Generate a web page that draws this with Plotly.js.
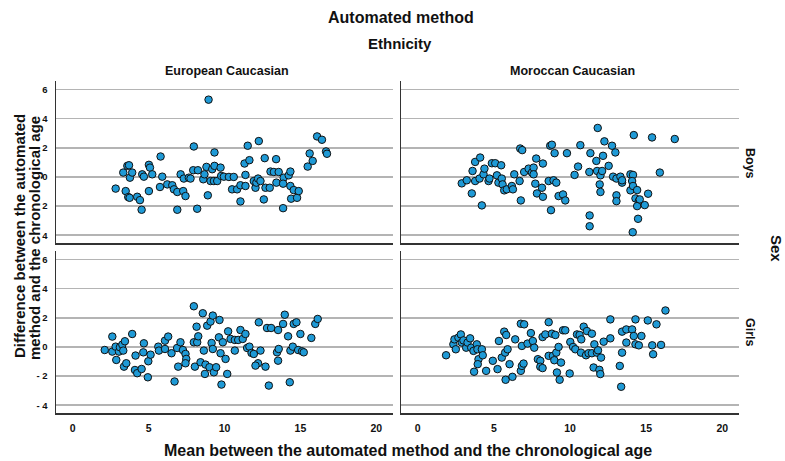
<!DOCTYPE html>
<html>
<head>
<meta charset="utf-8">
<script src="https://cdn.plot.ly/plotly-3.0.1.min.js"></script>
<style>html,body{margin:0;padding:0;background:#fff;}#chart{width:785px;height:461px;}</style>
</head>
<body>
<div id="chart"></div>
<script>
// ---- Data ----
const euBoysX = [2.83,3.33,3.49,3.6,3.71,3.77,3.92,3.66,3.75,4.25,4.43,4.54,4.58,4.69,5.02,5.09,5.02,5.24,5.79,5.9,5.75,6.23,6.56,6.67,6.89,6.89,7.11,7.28,7.43,7.32,7.65,7.76,7.94,7.98,8.25,8.2,8.6,8.68,8.81,8.9,9.08,9.19,9.34,9.34,9.3,9.52,9.74,9.78,9.96,10.29,10.61,10.5,10.83,11.05,11.05,11.38,11.38,11.32,11.53,11.64,11.93,12.04,12.1,12.21,12.26,12.37,12.59,12.65,12.7,12.98,13.03,13.25,13.4,13.42,13.57,13.9,13.86,13.86,14.23,14.34,14.34,14.39,14.56,14.78,14.89,15.48,15.61,15.81,16.1,16.42,16.69,16.75,8.95];
const euBoysY = [-0.80,0.30,-0.97,0.76,0.80,-0.05,0.30,-1.38,-1.43,-1.36,-1.59,-2.25,0.18,0.02,0.83,0.64,-0.97,0.18,1.40,0.02,-0.69,-0.51,-0.57,-0.85,-1.03,-2.25,0.18,-0.97,-1.31,-0.11,-0.05,-0.11,0.46,2.09,0.46,-2.18,-0.16,0.18,0.69,-1.26,-0.28,0.53,0.76,1.68,-0.28,-0.28,0.64,0.07,0.02,0.0,0.0,-0.85,-0.85,-1.68,-0.57,-0.62,0.14,0.92,2.14,1.15,-0.28,-0.74,-0.39,-0.11,2.46,-0.28,-1.54,1.29,-0.74,-0.74,0.37,0.34,1.22,-0.39,0.34,-0.05,-0.46,-2.14,0.11,0.37,-0.62,-1.49,-0.90,-1.43,-0.97,0.71,1.61,1.10,2.78,2.55,1.75,1.59,5.3];

const moBoysX = [2.89,3.22,3.55,3.6,3.77,3.77,4.1,4.06,4.21,4.32,4.38,4.65,4.71,4.87,5.09,5.2,5.3,5.48,5.52,5.57,5.68,5.85,6.18,6.25,6.34,6.69,6.73,6.86,6.77,6.99,7.28,7.5,7.61,7.61,7.72,7.78,7.83,8.16,8.22,8.22,8.6,8.7,8.81,8.75,8.92,8.99,9.1,9.25,9.54,9.69,9.8,10.3,10.53,10.68,11.27,11.34,11.29,11.29,11.73,11.78,11.82,11.95,12.0,12.0,12.11,12.17,12.26,12.54,12.76,12.83,12.98,13.05,13.05,13.05,13.31,13.42,13.42,13.97,14.14,14.08,14.19,13.97,14.14,14.3,14.41,14.52,14.41,14.47,14.12,14.58,14.91,15.13,15.39,15.9,16.88];
const moBoysY = [-0.44,-0.23,-1.13,0.41,-0.28,1.03,1.33,-0.11,-1.95,0.18,0.57,-0.28,-0.11,0.94,0.94,0.11,-0.39,0.80,-0.11,-0.51,-0.92,-0.85,-0.62,-0.85,0.18,-0.28,1.95,1.84,-1.61,0.34,0.57,0.30,0.64,0.18,-0.46,1.26,-1.13,-0.74,-1.36,0.92,-0.28,2.14,2.21,-2.28,-0.23,1.63,-0.39,-1.31,-1.20,-1.61,1.63,0.14,0.71,2.18,0.34,1.63,-2.64,-3.38,1.10,0.41,3.36,-0.51,-1.03,0.11,0.41,1.45,2.44,0.76,2.14,0.02,1.68,-0.11,-1.26,-1.66,0.02,-0.39,-0.23,0.18,0.14,-0.28,2.87,-0.92,-0.62,-1.47,-0.90,-1.66,-2.0,-2.87,-3.79,-1.54,-1.93,-1.15,2.71,0.30,2.60];

const euGirlsX = [2.11,2.61,2.61,2.83,2.87,3.05,3.11,3.27,3.33,3.44,3.38,3.53,3.92,4.1,4.14,4.25,4.54,4.65,4.69,4.95,4.98,5.13,5.64,5.68,6.08,6.08,6.29,6.51,6.71,6.88,6.95,7.1,7.26,7.43,7.48,7.43,7.98,7.98,8.16,8.2,8.27,8.05,8.42,8.57,8.64,8.75,8.71,8.86,9.08,9.23,9.15,9.23,9.01,9.3,9.45,9.63,9.67,9.8,9.89,9.74,10.07,10.18,10.24,10.4,10.68,10.68,10.9,11.05,11.2,11.38,11.49,11.64,11.78,11.93,12.21,12.04,12.26,12.37,12.7,12.8,13.07,12.92,13.46,13.57,13.53,13.53,13.86,13.97,14.19,14.3,14.34,14.5,14.56,14.74,14.85,15.0,15.11,15.22,15.72,15.98,16.14];
const euGirlsY = [-0.21,0.71,-0.32,0.02,-0.89,-0.32,-0.02,0.16,-0.25,0.39,-1.35,-1.12,0.89,-1.58,-0.59,-1.80,-1.51,-0.37,0.25,-2.08,-0.98,-0.53,0.02,-0.25,-0.14,0.43,0.71,-0.43,-2.37,-0.07,-1.35,0.32,-0.21,-0.48,-0.82,-1.12,2.79,0.32,1.39,0.32,0.73,-1.35,-1.05,2.31,-0.25,-1.21,-1.85,1.46,1.74,2.15,0.27,-0.14,-1.39,-1.74,-1.39,0.66,1.85,-2.58,0.32,-0.43,-0.82,-1.85,1.07,0.55,-0.25,0.48,0.48,1.16,0.55,0.89,-0.07,0.02,-0.41,-0.48,-1.12,-1.28,1.69,-0.25,-1.35,1.30,1.30,-2.65,-0.37,-0.14,-0.94,1.16,1.58,2.21,0.73,-2.42,-0.25,0.02,1.58,1.69,-0.21,0.89,-0.30,-0.37,0.62,1.58,1.92];

const moGirlsX = [1.86,2.34,2.41,2.5,2.67,2.83,2.89,3.0,3.18,3.27,3.44,3.51,3.66,3.7,3.88,3.92,3.99,3.94,4.21,4.27,4.49,4.93,5.24,5.33,5.52,5.68,5.74,5.81,5.9,6.03,5.77,6.22,6.4,6.77,6.99,6.84,6.77,6.84,6.95,7.21,7.43,7.56,7.65,7.89,8.05,8.05,8.2,8.2,8.38,8.6,8.6,8.81,8.88,9.04,8.97,9.1,9.25,9.14,9.32,9.41,9.54,9.69,9.98,10.02,10.2,10.35,10.46,10.63,10.72,10.74,10.9,11.05,11.11,11.22,11.44,11.44,11.6,11.55,11.77,11.84,11.93,11.99,12.04,12.21,12.65,12.65,13.27,13.36,13.42,13.42,13.7,13.7,14.08,14.19,14.3,14.3,14.52,14.69,15.11,15.4,15.46,15.68,15.98,16.27];
const moGirlsY = [-0.57,0.18,0.52,-0.16,0.64,0.86,0.30,0.45,-0.05,0.30,0.59,-0.05,-0.27,-1.70,0.18,-0.16,-0.84,-1.18,-0.16,-0.57,-1.64,-0.95,-1.52,0.41,-0.73,1.05,-0.39,0.82,-0.16,-1.18,-2.25,-2.05,0.52,1.59,1.55,0.07,-1.64,-1.30,-1.14,0.23,0.95,0.41,-0.05,-0.84,-0.95,-1.36,-1.45,0.68,0.86,1.70,-0.61,0.91,-0.61,0.82,-0.91,-0.39,0.00,-1.75,-2.25,-1.07,1.14,1.14,-1.82,0.34,0.00,-0.16,0.86,0.82,-0.39,0.52,1.39,-0.57,1.09,-0.43,0.91,-0.43,0.18,-1.41,-0.39,-0.23,-1.57,-1.86,-0.73,0.36,1.89,0.59,-1.30,-2.73,-0.39,1.05,1.20,0.30,1.20,0.75,1.89,0.18,0.11,0.75,1.82,0.11,-0.50,1.55,0.14,2.50];

const xTickVals = [0, 5, 10, 15, 20];
const xTickText = ["0", "5", "10", "15", "20"];
const yTickVals = [-4, -2, 0, 2, 4, 6];
const yTickTextTop = ["4", "2", "0", "2", "4", "6"];
const yTickTextBottom = ["- 4", "- 2", "0", "2", "4", "6"];

const columnLabels = ["European Caucasian", "Moroccan Caucasian"];
const rowLabels = ["Boys", "Girls"];
const yTitleLines = ["Difference between the automated", "method and the chronological age"];

// ---- Layout ----
const W = 785, H = 461;
const px = v => v / W;
const py = v => 1 - v / H;
const FONT = "Liberation Sans, Arial, sans-serif";
const markerStyle = {size: 7.5, color: "#1f9ad6", line: {color: "#111", width: 1}};

function tr(x, y, xa, ya) {
  return {x: x, y: y, xaxis: xa, yaxis: ya, type: "scatter", mode: "markers",
          marker: markerStyle, hoverinfo: "x+y", showlegend: false};
}

const colDom = [[px(56), px(393)], [px(401), px(739)]];
const rowDom = [[py(243.3), py(80.7)], [py(413.3), py(250.7)]];

function xAx(dom, anchor, showLabels) {
  return {domain: dom, anchor: anchor, range: [-1.1, 21.1], showgrid: false, zeroline: false,
          showline: true, linecolor: "#333", linewidth: 1.5, ticks: "",
          tickvals: xTickVals, ticktext: xTickText, showticklabels: showLabels,
          ticklabelstandoff: 5,
          tickfont: {family: FONT, size: 10.5, color: "#111", weight: "bold"}};
}
function yAx(dom, anchor, showLabels, txt) {
  return {domain: dom, anchor: anchor, range: [-4.55, 6.6], showgrid: true, gridcolor: "#b4b4b4",
          gridwidth: 1.6, zeroline: false, showline: true, linecolor: "#333", linewidth: 1.5,
          ticks: "", tickvals: yTickVals, ticktext: txt, showticklabels: showLabels,
          ticklabelstandoff: 5,
          tickfont: {family: FONT, size: 9.5, color: "#111", weight: "bold"}};
}

const ann = [];
function A(text, x, y, size, angle) {
  ann.push({text: text, x: px(x), y: py(y), xref: "paper", yref: "paper", showarrow: false,
            xanchor: "center", yanchor: "middle", textangle: angle || 0,
            font: {family: FONT, size: size, color: "#111", weight: "bold"}});
}
A("Automated method", 401, 18, 16);
A("Ethnicity", 400, 44, 15);
A(columnLabels[0], 226.5, 71, 12.5);
A(columnLabels[1], 572, 71, 12.5);
A(rowLabels[0], 750, 163, 12.5, 90);
A(rowLabels[1], 750, 332, 12.5, 90);
A("Sex", 777, 248, 15, 90);
A(yTitleLines[0], 19, 236, 15, -90);
A(yTitleLines[1], 34, 238, 15, -90);
A("Mean between the automated method and the chronological age", 408, 450, 16);

const layout = {
  width: W, height: H, margin: {l: 0, r: 0, t: 0, b: 0},
  paper_bgcolor: "#fff", plot_bgcolor: "#fff",
  xaxis: xAx(colDom[0], "y", false),
  yaxis: yAx(rowDom[0], "x", true, yTickTextTop),
  xaxis2: xAx(colDom[1], "y2", false),
  yaxis2: yAx(rowDom[0], "x2", false, yTickTextTop),
  xaxis3: xAx(colDom[0], "y3", true),
  yaxis3: yAx(rowDom[1], "x3", true, yTickTextBottom),
  xaxis4: xAx(colDom[1], "y4", true),
  yaxis4: yAx(rowDom[1], "x4", false, yTickTextBottom),
  annotations: ann
};

const data = [
  tr(euBoysX, euBoysY, "x", "y"),
  tr(moBoysX, moBoysY, "x2", "y2"),
  tr(euGirlsX, euGirlsY, "x3", "y3"),
  tr(moGirlsX, moGirlsY, "x4", "y4")
];

Plotly.newPlot("chart", data, layout, {staticPlot: true, displayModeBar: false});
</script>
</body>
</html>
